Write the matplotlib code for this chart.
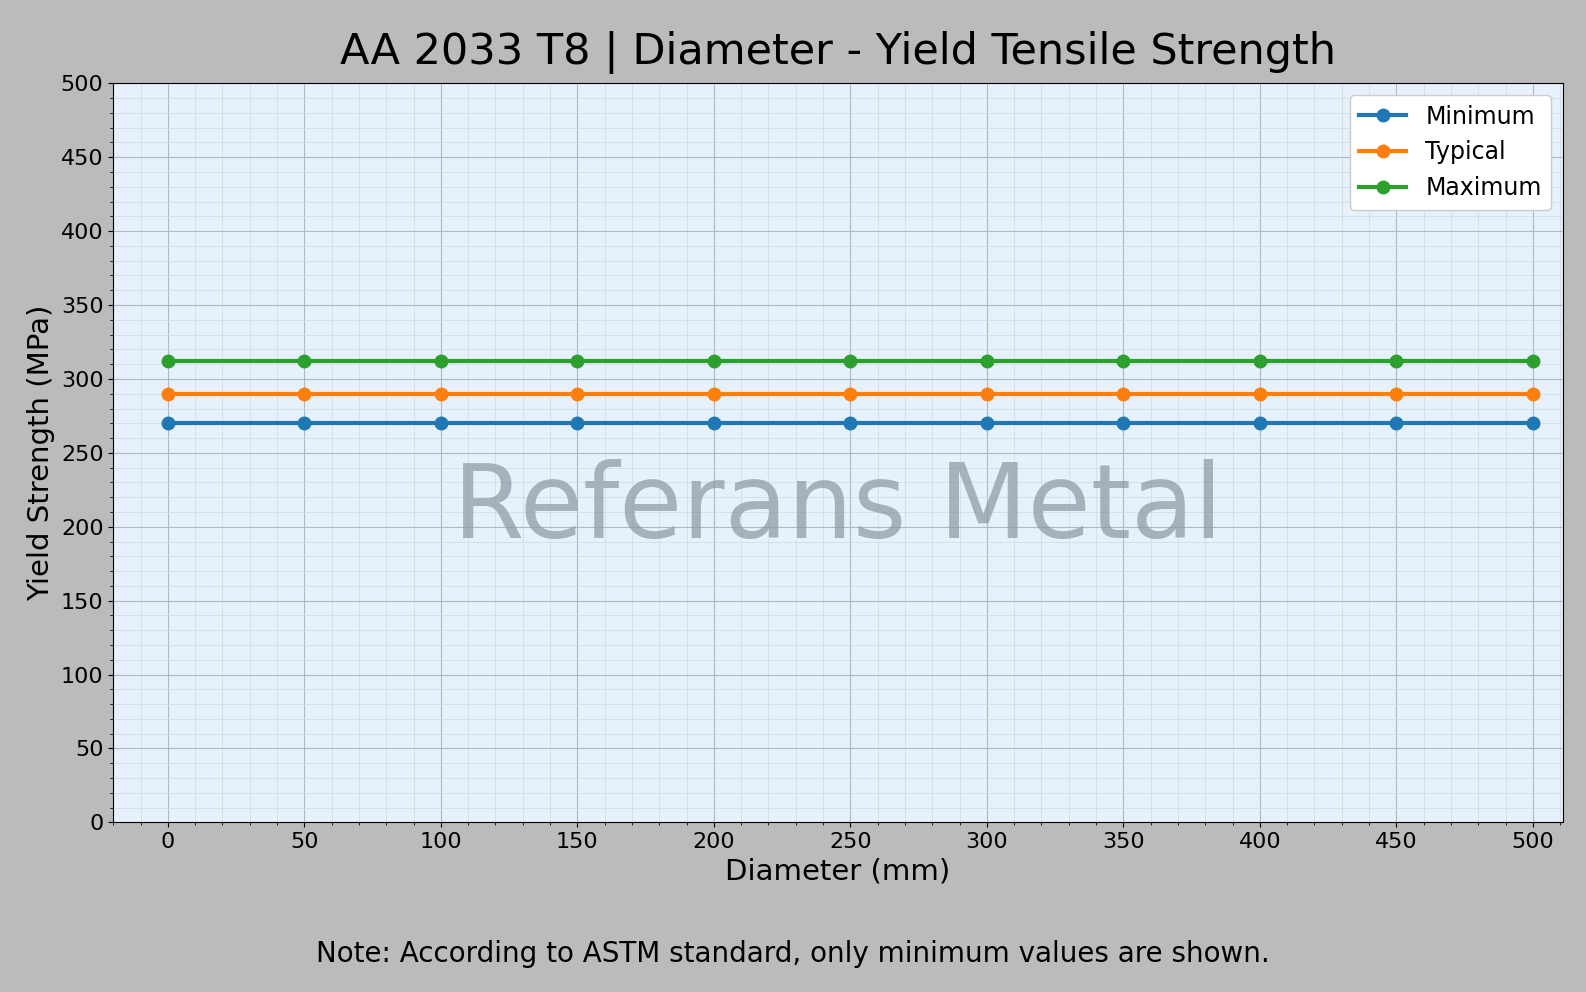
import matplotlib.pyplot as plt
from matplotlib.ticker import AutoMinorLocator

diameters = [0, 50, 100, 150, 200, 250, 300, 350, 400, 450, 500]
minimum = [270] * 11
typical = [290] * 11
maximum = [312] * 11

fig = plt.figure(figsize=(15.86, 9.92), dpi=100, facecolor='#bbbbbb')
ax = fig.add_axes([0.0714, 0.171, 0.914, 0.745])
ax.set_facecolor('#e6f1fc')

ax.plot(diameters, minimum, '-o', color='#1f77b4', linewidth=3, markersize=9, label='Minimum')
ax.plot(diameters, typical, '-o', color='#ff7f0e', linewidth=3, markersize=9, label='Typical')
ax.plot(diameters, maximum, '-o', color='#2ca02c', linewidth=3, markersize=9, label='Maximum')

ax.set_ylim(0, 500)
ax.set_xlim(-20, 511)
ax.set_xticks(diameters)
ax.set_yticks(range(0, 501, 50))
ax.xaxis.set_minor_locator(AutoMinorLocator(5))
ax.yaxis.set_minor_locator(AutoMinorLocator(5))
ax.grid(True, which='major', color='#b0b8c0', linewidth=0.8)
ax.grid(True, which='minor', color='#d0dae4', linewidth=0.5)
ax.tick_params(labelsize=16)

ax.set_title("AA 2033 T8 | Diameter - Yield Tensile Strength", fontsize=31, pad=14)
ax.set_xlabel("Diameter (mm)", fontsize=21)
ax.set_ylabel("Yield Strength (MPa)", fontsize=21)
ax.legend(fontsize=17, loc='upper right', framealpha=1)

ax.text(0.5, 0.424, "Referans Metal", transform=ax.transAxes, fontsize=74,
        color='#8c96a0', alpha=0.7, ha='center', va='center')
fig.text(0.5, 0.038, "Note: According to ASTM standard, only minimum values are shown.",
         fontsize=20, ha='center', va='center')

fig.savefig('out.png', dpi=100, facecolor=fig.get_facecolor())
